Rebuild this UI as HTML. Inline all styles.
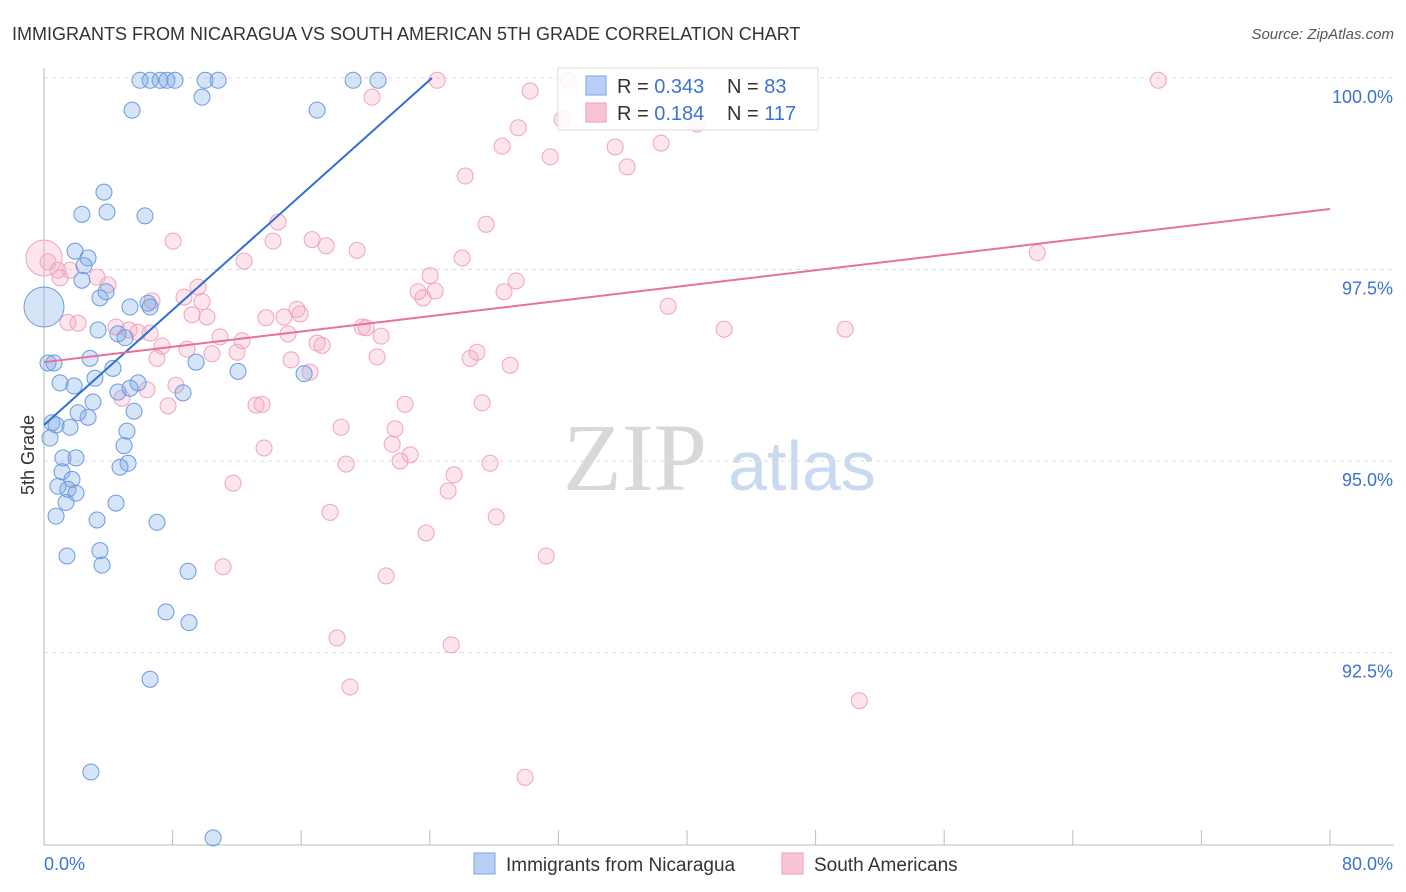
<!DOCTYPE html>
<html><head><meta charset="utf-8"><style>
body{margin:0;background:#fff;font-family:"Liberation Sans",sans-serif;}
svg{display:block}
</style></head><body>
<svg id="chart" width="1406" height="892">
<text x="12" y="40" font-size="18" fill="#333">IMMIGRANTS FROM NICARAGUA VS SOUTH AMERICAN 5TH GRADE CORRELATION CHART</text>
<text x="1394" y="39" font-size="15" fill="#555" font-style="italic" text-anchor="end">Source: ZipAtlas.com</text>
<text x="34" y="455" font-size="18" fill="#333" text-anchor="middle" transform="rotate(-90 34 455)">5th Grade</text>
<g>
<text x="635" y="490" font-size="96" fill="#d8d8d8" font-family="Liberation Serif,serif" text-anchor="middle">ZIP</text>
<text x="802" y="490" font-size="70" fill="#c9daf0" text-anchor="middle">atlas</text>
</g>
<g id="grid"></g><g id="axes"></g><g id="pinkpts"></g><g id="bluepts"></g><g id="lines"></g>
<g>
<rect x="558" y="68" width="260" height="62" fill="#fff" fill-opacity="0.85" stroke="#ddd"/>
<rect x="586" y="76" width="20" height="19" fill="#b8d0f5" stroke="#7aa5e6"/>
<rect x="586" y="103" width="20" height="19" fill="#f9c5d5" stroke="#ee9bb6"/>
<text x="617" y="93" font-size="20" fill="#333">R = <tspan fill="#3b73d1">0.343</tspan></text>
<text x="727" y="93" font-size="20" fill="#333">N = <tspan fill="#3b73d1"> 83</tspan></text>
<text x="617" y="120" font-size="20" fill="#333">R = <tspan fill="#3b73d1"> 0.184</tspan></text>
<text x="727" y="120" font-size="20" fill="#333">N = <tspan fill="#3b73d1">117</tspan></text>
</g>
<g>
<rect x="474" y="853" width="21" height="21" fill="#b8d0f5" stroke="#7aa5e6"/>
<text x="506" y="871" font-size="19" fill="#333">Immigrants from Nicaragua</text>
<rect x="782" y="853" width="21" height="21" fill="#f9c5d5" stroke="#ee9bb6"/>
<text x="814" y="871" font-size="19" fill="#333">South Americans</text>
</g>
</svg>
<script>
const xTicks=[0,8,16,24,32,40,48,56,64,72,80];
const yTicks=[92.5,95,97.5,100];
const yTickLabels=["92.5%","95.0%","97.5%","100.0%"];
const xTickLabels=["0.0%","80.0%"];
const blueX=[7.22,7.65,6.60,8.15,5.97,10.02,10.83,19.23,20.78,5.48,9.83,16.99,3.73,2.36,3.92,6.28,1.93,2.74,2.49,2.36,3.48,3.86,5.35,6.47,6.60,3.36,4.60,5.04,0.25,0.62,2.86,4.29,5.85,1.00,1.87,3.17,5.35,9.46,12.07,16.18,8.65,4.60,3.05,2.12,5.60,0.50,0.75,1.62,2.74,0.37,5.16,4.98,1.18,1.99,5.23,4.73,1.12,1.74,0.87,1.49,1.99,1.37,4.48,0.75,3.30,7.03,1.43,3.48,3.61,8.96,7.59,9.02,6.60,2.92,10.52];
const blueY=[99.97,99.97,99.97,99.97,99.97,99.97,99.97,99.97,99.97,99.58,99.75,99.58,98.51,98.22,98.25,98.20,97.74,97.65,97.55,97.36,97.13,97.21,97.01,97.06,97.01,96.71,96.66,96.61,96.28,96.28,96.34,96.21,96.02,96.02,95.98,96.08,95.95,96.29,96.17,96.14,95.89,95.90,95.77,95.63,95.65,95.50,95.47,95.44,95.57,95.30,95.39,95.20,95.04,95.04,94.97,94.92,94.86,94.76,94.67,94.63,94.58,94.46,94.45,94.28,94.23,94.20,93.76,93.83,93.64,93.56,93.03,92.89,92.15,90.94,90.08];
const pinkX=[24.46,32.61,69.32,30.24,20.41,32.23,29.50,40.63,28.50,35.53,38.39,31.49,36.28,26.20,14.56,27.50,8.03,14.25,16.68,19.48,17.55,26.01,61.79,12.45,1.62,3.30,3.98,24.02,29.37,9.58,8.71,23.27,24.33,23.58,28.62,9.83,6.72,15.74,15.93,38.83,13.81,14.93,10.14,9.21,1.49,2.12,4.48,5.29,5.85,6.60,42.31,49.84,19.79,20.04,20.97,15.18,12.32,10.95,16.99,17.30,7.34,8.90,10.45,12.01,7.03,15.37,20.72,26.51,26.94,29.00,16.55,8.21,6.41,4.85,7.72,13.19,13.57,22.46,27.26,18.48,21.84,21.66,13.69,22.78,22.15,18.79,27.75,25.51,11.76,25.14,17.80,28.13,23.77,31.24,11.14,21.28,18.23,25.33,19.04,50.72,29.93,1.00,0.25,0.87];
const pinkY=[99.97,99.97,99.97,99.83,99.75,99.46,99.35,99.40,99.11,99.10,99.15,98.97,98.84,98.72,98.12,98.09,97.87,97.87,97.89,97.75,97.81,97.65,97.72,97.61,97.49,97.40,97.30,97.42,97.35,97.27,97.14,97.21,97.22,97.13,97.21,97.08,97.09,96.98,96.92,97.02,96.87,96.88,96.88,96.91,96.81,96.80,96.75,96.71,96.68,96.67,96.72,96.72,96.75,96.74,96.63,96.66,96.57,96.62,96.54,96.51,96.50,96.46,96.40,96.42,96.34,96.32,96.36,96.34,96.42,96.25,96.16,95.99,95.93,95.82,95.72,95.73,95.74,95.74,95.76,95.44,95.42,95.22,95.17,95.08,95.00,94.96,94.97,94.82,94.71,94.61,94.33,94.27,94.06,93.76,93.62,93.50,92.69,92.60,92.05,91.87,90.87,97.39,97.60,97.49];
const bigBlue=[0,97.01];
const bigPink=[0,97.65];
const blueTrend=[95.47,0.1877];
const pinkTrend=[96.29,0.025];
const X=v=>44+v*16.075;
const Y=v=>78+(100-v)*76.6;
const NS="http://www.w3.org/2000/svg";
function mk(tag,attrs,parent){const e=document.createElementNS(NS,tag);for(const k in attrs)e.setAttribute(k,attrs[k]);document.getElementById(parent).appendChild(e);return e;}
const grid="grid",axes="axes";
yTicks.forEach((t,i)=>{
 const l=mk("line",{x1:44,x2:1394,y1:Y(t),y2:Y(t),stroke:"#ddd","stroke-dasharray":"4,4"},grid);
 
 
 const tx=mk("text",{x:1393,y:Y(t)+25,"font-size":18,fill:"#3b73d1","text-anchor":"end"},axes);
 tx.textContent=yTickLabels[i];
 
 
});
const yax=mk("line",{x1:44,x2:44,y1:68,y2:845,stroke:"#bbb"},axes);


const xax=mk("line",{x1:44,x2:1394,y1:845,y2:845,stroke:"#bbb"},axes);


xTicks.forEach(t=>{
 const l=mk("line",{x1:X(t),x2:X(t),y1:830,y2:845,stroke:"#bbb"},axes);
 
 
});
const xl0=mk("text",{x:44,y:870,"font-size":18,fill:"#3b73d1"},axes);
xl0.textContent=xTickLabels[0];


const xl1=mk("text",{x:1393,y:870,"font-size":18,fill:"#3b73d1","text-anchor":"end"},axes);
xl1.textContent=xTickLabels[1];


pinkX.forEach((x,i)=>{
 const c=mk("circle",{cx:X(x),cy:Y(pinkY[i]),r:8,fill:"rgba(246,170,196,0.3)",stroke:"#f0a3bd","stroke-width":1},"pinkpts");
 
 
});
const bp=mk("circle",{cx:X(bigPink[0]),cy:Y(bigPink[1]),r:18,fill:"rgba(246,170,196,0.3)",stroke:"#f0a3bd"},"pinkpts");


blueX.forEach((x,i)=>{
 const c=mk("circle",{cx:X(x),cy:Y(blueY[i]),r:8,fill:"rgba(120,165,230,0.3)",stroke:"#6a9be0","stroke-width":1},"bluepts");
 
 
});
const bb=mk("circle",{cx:X(bigBlue[0]),cy:Y(bigBlue[1]),r:20,fill:"rgba(120,165,230,0.3)",stroke:"#6a9be0"},"bluepts");


const bx2=(100-blueTrend[0])/blueTrend[1];
const bl=mk("line",{x1:X(0),y1:Y(blueTrend[0]),x2:X(bx2),y2:Y(100),stroke:"#2f6fd6","stroke-width":2},"lines");


const pl=mk("line",{x1:X(0),y1:Y(pinkTrend[0]),x2:X(80),y2:Y(pinkTrend[0]+80*pinkTrend[1]),stroke:"#e8709a","stroke-width":2},"lines");


</script>
</body></html>
